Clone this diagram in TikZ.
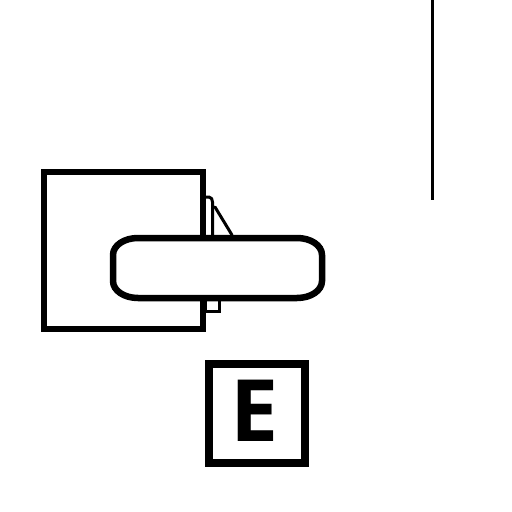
\documentclass[tikz,border=0pt]{standalone}
\usepackage{fontspec}
\newfontfamily\efont{Open Sans}
\begin{document}
\begin{tikzpicture}[x=1pt,y=-1pt,
  thick line/.style={line width=6.5pt},
  thin line/.style={line width=3pt}]
\useasboundingbox[fill=white] (0,0) rectangle (512,512);
% square
\draw[thick line] (44,172) rectangle (203,329);
% small wedge at top
\draw[thin line,line join=round] (204,197) -- (209,197) to[out=0,in=90] (212.5,202) -- (212.5,238);
\draw[thin line,line cap=round] (215,207) -- (232,235);
% small box below
\draw[thin line] (205,299) rectangle (219,311);
% pill
\filldraw[fill=white,thick line] (138,238) -- (297,238)
  .. controls (311,238) and (322,245.5) .. (322,255) -- (322,281)
  .. controls (322,290.5) and (311,298) .. (297,298) -- (138,298)
  .. controls (124,298) and (113,290.5) .. (113,281) -- (113,255)
  .. controls (113,245.5) and (124,238) .. (138,238) -- cycle;
% vertical line
\draw[line width=3pt] (432,0) -- (432,200);
% E box
\node[draw,line width=7.5pt,minimum width=96pt,minimum height=99pt,inner sep=0pt] (ebox) at (257,413.5) {};
\node[inner sep=0pt] (E) at (255,411) {\efont\bfseries\fontsize{86}{86}\selectfont E};
\end{tikzpicture}
\end{document}
